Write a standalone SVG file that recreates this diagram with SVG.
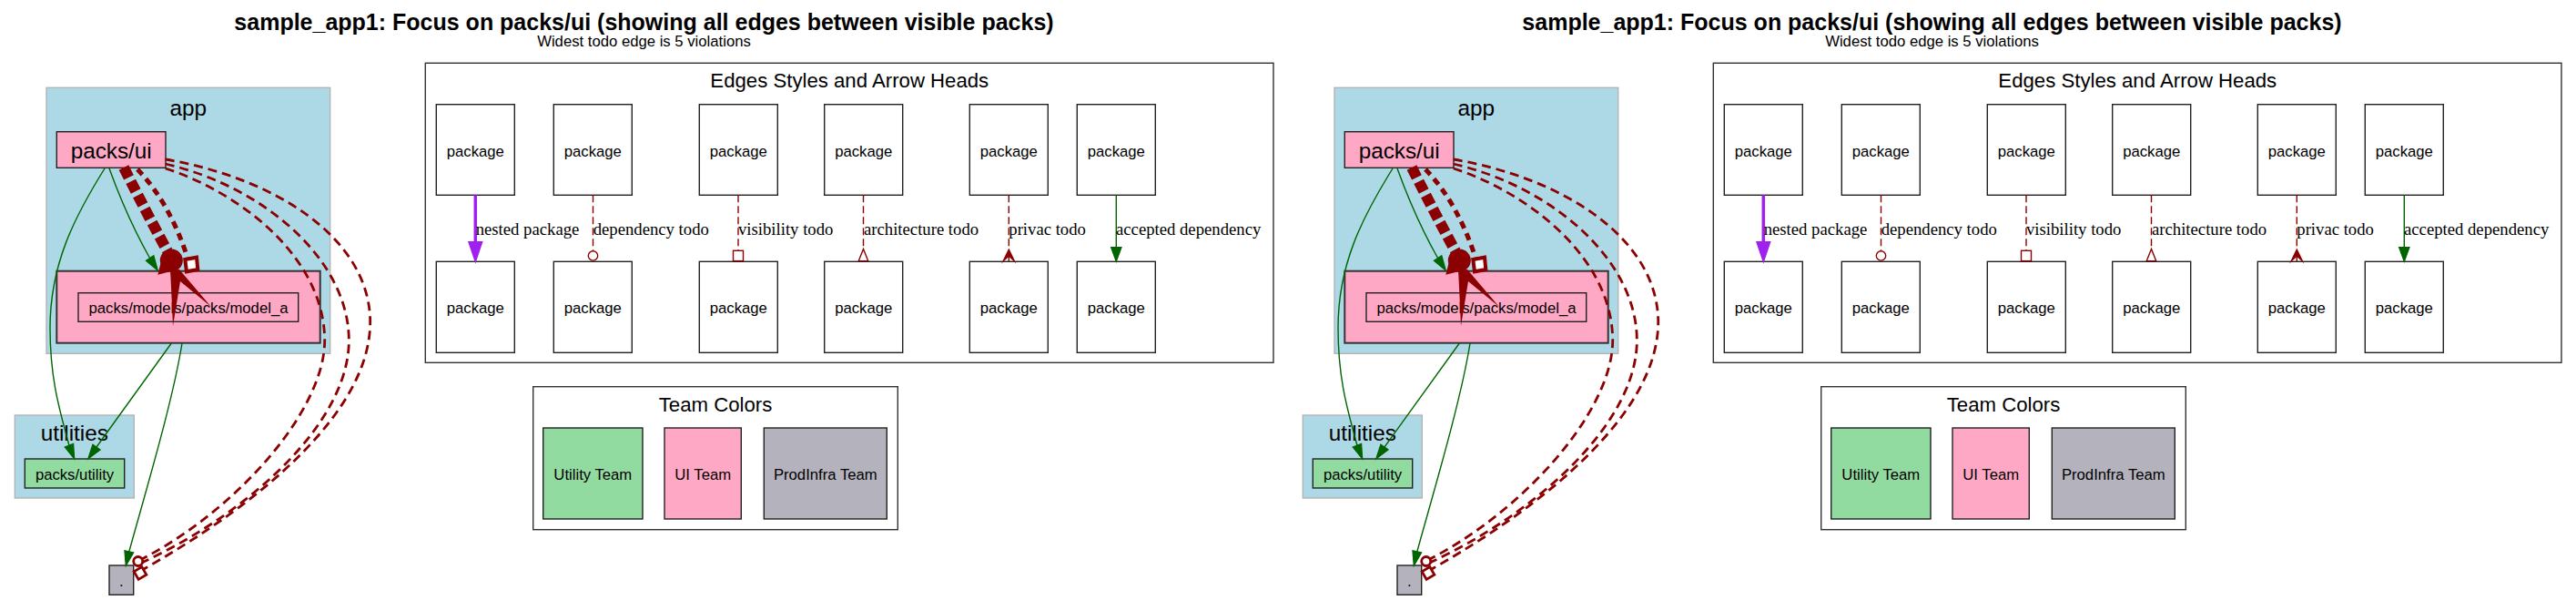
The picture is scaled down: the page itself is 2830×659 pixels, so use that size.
<svg xmlns="http://www.w3.org/2000/svg" width="2830" height="659" viewBox="0 0 2830 659">
<style>
.t{font-family:"Liberation Sans",Arial,sans-serif;fill:#000}
.c{text-anchor:middle}
.big{font-size:24.3px}
.sm{font-size:16.7px}
.hd{font-size:22.2px}
.ttl{font-family:"Liberation Sans",Arial,sans-serif;font-weight:bold;font-size:25px;text-anchor:middle}
.lb{font-family:"Liberation Serif","Times New Roman",serif;font-size:18.7px;fill:#000}
.cl{fill:#add8e6;stroke:#b4b4b4;stroke-width:1.4}
.box{fill:none;stroke:#333;stroke-width:1.4}
.pk{fill:#fff;stroke:#222;stroke-width:1.4}
.pink{fill:#ffa8c5}
.green{fill:#92dba0}
.gray{fill:#b4b3bd}
.nd{stroke:#222;stroke-width:1.4}
.g{fill:none;stroke:#006400;stroke-width:1.4}
.ga{fill:#006400;stroke:#006400;stroke-width:1.2}
.rl{fill:none;stroke:#8b0000;stroke-width:1.4;stroke-dasharray:8,4}
.rc{fill:none;stroke:#8b0000;stroke-width:2.8;stroke-dasharray:10,6}
.rh{fill:#fff;stroke:#8b0000;stroke-width:1.4}
.rf{fill:#8b0000;stroke:none}
.thick{fill:none;stroke:#8b0000;stroke-width:12;stroke-dasharray:12,5}
.mid{fill:none;stroke:#8b0000;stroke-width:5;stroke-dasharray:8,6}
</style>
<rect width="2830" height="659" fill="#fff"/>

<g id="half1">
<text class="ttl" x="707.5" y="33.3">sample_app1: Focus on packs/ui (showing all edges between visible packs)</text>
<text class="t c sm" x="707.5" y="51">Widest todo edge is 5 violations</text>

<g id="cluster_app">
<rect class="cl" x="51" y="96.3" width="311.7" height="292"/>
<text class="t c big" x="206.8" y="126.7">app</text>
</g>
<g id="cluster_utilities">
<rect class="cl" x="16.3" y="456" width="131" height="91"/>
<text class="t c big" x="81.8" y="484">utilities</text>
</g>
<g id="node_packs_ui">
<rect class="pink nd" x="62.3" y="144.7" width="119.7" height="39.6"/>
<text class="t c big" x="122.2" y="174">packs/ui</text>
</g>
<g id="node_model_a">
<rect class="pink" x="62.3" y="297.7" width="289.4" height="79" stroke="#333" stroke-width="2"/>
<rect class="pink nd" x="86" y="321.7" width="241.7" height="31.6"/>
<text class="t c sm" x="207" y="344">packs/models/packs/model_a</text>
</g>
<g id="node_packs_utility">
<rect class="green nd" x="27.3" y="504" width="109.4" height="32"/>
<text class="t c sm" x="82" y="526.7">packs/utility</text>
</g>
<g id="node_root">
<rect class="gray nd" x="120" y="621" width="26.7" height="32.3"/>
<text class="t c sm" x="133.3" y="644">.</text>
</g>

<g id="edges1">
<path class="g" d="M115,185 C82,238 55,290 55,360 C55,420 67,455 75.9,489.1"/>
<polygon class="ga" points="81.7,504 80.6,487.3 71.2,490.9"/>
<path class="g" d="M120,185 Q140,240 164.6,283.5"/>
<polygon class="ga" points="173.3,297 168.8,280.8 160.4,286.2"/>
<path class="g" d="M188.3,377 L106,491"/>
<polygon class="ga" points="96.7,504 110.1,493.9 101.9,488.1"/>
<path class="g" d="M200,377 C190,440 160,540 141.8,605.9"/>
<polygon class="ga" points="138.3,621.5 146.7,607 136.9,604.8"/>

<path class="thick" d="M136,184 Q160,232 184,276"/>
<circle class="rf" cx="188.3" cy="286" r="12.5"/>
<polygon class="rf" points="173.3,301.7 176.5,289 192,297"/>
<polygon class="rf" points="187,297 197,296 232,337 198,309 190,358 187.5,305"/>
<path class="mid" d="M151,186 Q186,222 206,283"/>
<polygon fill="#fff" stroke="#8b0000" stroke-width="4" points="203.3,285 216,282.7 217.3,296 205,298.3"/>

<path class="rc" d="M181.7,175 C300,195 405,260 406.7,352 C408,450 290,550 158,625"/>
<path class="rc" d="M181.7,180 C290,205 382,285 383.3,372 C385,460 280,560 156,618"/>
<path class="rc" d="M181.7,185 C260,210 355,280 356.7,372 C358,450 260,560 156,614"/>
<circle fill="#fff" stroke="#8b0000" stroke-width="2.8" cx="151.7" cy="616.5" r="5"/>
<rect fill="#fff" stroke="#8b0000" stroke-width="2.8" x="149" y="624.5" width="10" height="10" transform="rotate(-30 154 629.5)"/>
</g>

<g id="legend_edges">
<rect class="box" x="467.3" y="69.3" width="931.7" height="329"/>
<text class="t c hd" x="933.3" y="96">Edges Styles and Arrow Heads</text>
<g id="lp1"><rect class="pk" x="479.3" y="114.7" width="86" height="99.6"/><text class="t c sm" x="522.3" y="171.7">package</text></g>
<g id="lp2"><rect class="pk" x="608.3" y="114.7" width="86" height="99.6"/><text class="t c sm" x="651.3" y="171.7">package</text></g>
<g id="lp3"><rect class="pk" x="768.3" y="114.7" width="86" height="99.6"/><text class="t c sm" x="811.3" y="171.7">package</text></g>
<g id="lp4"><rect class="pk" x="905.7" y="114.7" width="86" height="99.6"/><text class="t c sm" x="948.7" y="171.7">package</text></g>
<g id="lp5"><rect class="pk" x="1065.3" y="114.7" width="86" height="99.6"/><text class="t c sm" x="1108.3" y="171.7">package</text></g>
<g id="lp6"><rect class="pk" x="1183.3" y="114.7" width="86" height="99.6"/><text class="t c sm" x="1226.3" y="171.7">package</text></g>
<g id="lq1"><rect class="pk" x="479.3" y="287.3" width="86" height="100"/><text class="t c sm" x="522.3" y="344">package</text></g>
<g id="lq2"><rect class="pk" x="608.3" y="287.3" width="86" height="100"/><text class="t c sm" x="651.3" y="344">package</text></g>
<g id="lq3"><rect class="pk" x="768.3" y="287.3" width="86" height="100"/><text class="t c sm" x="811.3" y="344">package</text></g>
<g id="lq4"><rect class="pk" x="905.7" y="287.3" width="86" height="100"/><text class="t c sm" x="948.7" y="344">package</text></g>
<g id="lq5"><rect class="pk" x="1065.3" y="287.3" width="86" height="100"/><text class="t c sm" x="1108.3" y="344">package</text></g>
<g id="lq6"><rect class="pk" x="1183.3" y="287.3" width="86" height="100"/><text class="t c sm" x="1226.3" y="344">package</text></g>
<g id="legend_connectors">
<line x1="522.3" y1="214.3" x2="522.3" y2="267" stroke="#a020f0" stroke-width="3.5"/>
<polygon points="522.3,287.3 515,265.7 529.6,265.7" fill="#a020f0" stroke="#a020f0" stroke-width="1.5"/>
<text class="lb" x="522.7" y="258.3">nested package</text>
<line class="rl" x1="651.5" y1="214.3" x2="651.5" y2="275.5"/>
<circle class="rh" cx="651.5" cy="280.9" r="5.2"/>
<text class="lb" x="651.7" y="258.3">dependency todo</text>
<line class="rl" x1="811" y1="214.3" x2="811" y2="275"/>
<rect class="rh" x="805.5" y="275.3" width="11" height="11.3"/>
<text class="lb" x="811" y="258.3">visibility todo</text>
<line class="rl" x1="948.5" y1="214.3" x2="948.5" y2="273.5"/>
<polygon class="rh" points="948.5,273.5 943.3,286.6 953.7,286.6"/>
<text class="lb" x="949" y="258.3">architecture todo</text>
<line class="rl" x1="1108.3" y1="214.3" x2="1108.3" y2="274"/>
<polygon class="rf" points="1108.3,272.5 1116.5,289.5 1108.3,282 1100.1,289.5"/>
<line x1="1108.3" y1="280" x2="1108.3" y2="287.3" stroke="#8b0000" stroke-width="1.4"/>
<text class="lb" x="1108.3" y="258.3">privac todo</text>
<line class="g" x1="1226.3" y1="214.3" x2="1226.3" y2="273"/>
<polygon class="ga" points="1226.3,287.3 1220.6,271.7 1232,271.7"/>
<text class="lb" x="1226" y="258.3">accepted dependency</text>
</g>
</g>

<g id="legend_teams">
<rect class="box" x="585.7" y="424.7" width="400.6" height="157"/>
<text class="t c hd" x="786" y="451.7">Team Colors</text>
<g id="team_utility"><rect class="green nd" x="596.7" y="470" width="109.3" height="100"/><text class="t c sm" x="651.3" y="527.3">Utility Team</text></g>
<g id="team_ui"><rect class="pink nd" x="730" y="470" width="84.3" height="100"/><text class="t c sm" x="772.2" y="527.3">UI Team</text></g>
<g id="team_prodinfra"><rect class="gray nd" x="839.3" y="470" width="135" height="100"/><text class="t c sm" x="906.8" y="527.3">ProdInfra Team</text></g>
</g>
</g>

<g id="half2" transform="translate(1415,0)">
<text class="ttl" x="707.5" y="33.3">sample_app1: Focus on packs/ui (showing all edges between visible packs)</text>
<text class="t c sm" x="707.5" y="51">Widest todo edge is 5 violations</text>

<g id="cluster_app_2">
<rect class="cl" x="51" y="96.3" width="311.7" height="292"/>
<text class="t c big" x="206.8" y="126.7">app</text>
</g>
<g id="cluster_utilities_2">
<rect class="cl" x="16.3" y="456" width="131" height="91"/>
<text class="t c big" x="81.8" y="484">utilities</text>
</g>
<g id="node_packs_ui_2">
<rect class="pink nd" x="62.3" y="144.7" width="119.7" height="39.6"/>
<text class="t c big" x="122.2" y="174">packs/ui</text>
</g>
<g id="node_model_a_2">
<rect class="pink" x="62.3" y="297.7" width="289.4" height="79" stroke="#333" stroke-width="2"/>
<rect class="pink nd" x="86" y="321.7" width="241.7" height="31.6"/>
<text class="t c sm" x="207" y="344">packs/models/packs/model_a</text>
</g>
<g id="node_packs_utility_2">
<rect class="green nd" x="27.3" y="504" width="109.4" height="32"/>
<text class="t c sm" x="82" y="526.7">packs/utility</text>
</g>
<g id="node_root_2">
<rect class="gray nd" x="120" y="621" width="26.7" height="32.3"/>
<text class="t c sm" x="133.3" y="644">.</text>
</g>

<g id="edges2">
<path class="g" d="M115,185 C82,238 55,290 55,360 C55,420 67,455 75.9,489.1"/>
<polygon class="ga" points="81.7,504 80.6,487.3 71.2,490.9"/>
<path class="g" d="M120,185 Q140,240 164.6,283.5"/>
<polygon class="ga" points="173.3,297 168.8,280.8 160.4,286.2"/>
<path class="g" d="M188.3,377 L106,491"/>
<polygon class="ga" points="96.7,504 110.1,493.9 101.9,488.1"/>
<path class="g" d="M200,377 C190,440 160,540 141.8,605.9"/>
<polygon class="ga" points="138.3,621.5 146.7,607 136.9,604.8"/>

<path class="thick" d="M136,184 Q160,232 184,276"/>
<circle class="rf" cx="188.3" cy="286" r="12.5"/>
<polygon class="rf" points="173.3,301.7 176.5,289 192,297"/>
<polygon class="rf" points="187,297 197,296 232,337 198,309 190,358 187.5,305"/>
<path class="mid" d="M151,186 Q186,222 206,283"/>
<polygon fill="#fff" stroke="#8b0000" stroke-width="4" points="203.3,285 216,282.7 217.3,296 205,298.3"/>

<path class="rc" d="M181.7,175 C300,195 405,260 406.7,352 C408,450 290,550 158,625"/>
<path class="rc" d="M181.7,180 C290,205 382,285 383.3,372 C385,460 280,560 156,618"/>
<path class="rc" d="M181.7,185 C260,210 355,280 356.7,372 C358,450 260,560 156,614"/>
<circle fill="#fff" stroke="#8b0000" stroke-width="2.8" cx="151.7" cy="616.5" r="5"/>
<rect fill="#fff" stroke="#8b0000" stroke-width="2.8" x="149" y="624.5" width="10" height="10" transform="rotate(-30 154 629.5)"/>
</g>

<g id="legend_edges_2">
<rect class="box" x="467.3" y="69.3" width="931.7" height="329"/>
<text class="t c hd" x="933.3" y="96">Edges Styles and Arrow Heads</text>
<g id="lp1_2"><rect class="pk" x="479.3" y="114.7" width="86" height="99.6"/><text class="t c sm" x="522.3" y="171.7">package</text></g>
<g id="lp2_2"><rect class="pk" x="608.3" y="114.7" width="86" height="99.6"/><text class="t c sm" x="651.3" y="171.7">package</text></g>
<g id="lp3_2"><rect class="pk" x="768.3" y="114.7" width="86" height="99.6"/><text class="t c sm" x="811.3" y="171.7">package</text></g>
<g id="lp4_2"><rect class="pk" x="905.7" y="114.7" width="86" height="99.6"/><text class="t c sm" x="948.7" y="171.7">package</text></g>
<g id="lp5_2"><rect class="pk" x="1065.3" y="114.7" width="86" height="99.6"/><text class="t c sm" x="1108.3" y="171.7">package</text></g>
<g id="lp6_2"><rect class="pk" x="1183.3" y="114.7" width="86" height="99.6"/><text class="t c sm" x="1226.3" y="171.7">package</text></g>
<g id="lq1_2"><rect class="pk" x="479.3" y="287.3" width="86" height="100"/><text class="t c sm" x="522.3" y="344">package</text></g>
<g id="lq2_2"><rect class="pk" x="608.3" y="287.3" width="86" height="100"/><text class="t c sm" x="651.3" y="344">package</text></g>
<g id="lq3_2"><rect class="pk" x="768.3" y="287.3" width="86" height="100"/><text class="t c sm" x="811.3" y="344">package</text></g>
<g id="lq4_2"><rect class="pk" x="905.7" y="287.3" width="86" height="100"/><text class="t c sm" x="948.7" y="344">package</text></g>
<g id="lq5_2"><rect class="pk" x="1065.3" y="287.3" width="86" height="100"/><text class="t c sm" x="1108.3" y="344">package</text></g>
<g id="lq6_2"><rect class="pk" x="1183.3" y="287.3" width="86" height="100"/><text class="t c sm" x="1226.3" y="344">package</text></g>
<g id="legend_connectors_2">
<line x1="522.3" y1="214.3" x2="522.3" y2="267" stroke="#a020f0" stroke-width="3.5"/>
<polygon points="522.3,287.3 515,265.7 529.6,265.7" fill="#a020f0" stroke="#a020f0" stroke-width="1.5"/>
<text class="lb" x="522.7" y="258.3">nested package</text>
<line class="rl" x1="651.5" y1="214.3" x2="651.5" y2="275.5"/>
<circle class="rh" cx="651.5" cy="280.9" r="5.2"/>
<text class="lb" x="651.7" y="258.3">dependency todo</text>
<line class="rl" x1="811" y1="214.3" x2="811" y2="275"/>
<rect class="rh" x="805.5" y="275.3" width="11" height="11.3"/>
<text class="lb" x="811" y="258.3">visibility todo</text>
<line class="rl" x1="948.5" y1="214.3" x2="948.5" y2="273.5"/>
<polygon class="rh" points="948.5,273.5 943.3,286.6 953.7,286.6"/>
<text class="lb" x="949" y="258.3">architecture todo</text>
<line class="rl" x1="1108.3" y1="214.3" x2="1108.3" y2="274"/>
<polygon class="rf" points="1108.3,272.5 1116.5,289.5 1108.3,282 1100.1,289.5"/>
<line x1="1108.3" y1="280" x2="1108.3" y2="287.3" stroke="#8b0000" stroke-width="1.4"/>
<text class="lb" x="1108.3" y="258.3">privac todo</text>
<line class="g" x1="1226.3" y1="214.3" x2="1226.3" y2="273"/>
<polygon class="ga" points="1226.3,287.3 1220.6,271.7 1232,271.7"/>
<text class="lb" x="1226" y="258.3">accepted dependency</text>
</g>
</g>

<g id="legend_teams_2">
<rect class="box" x="585.7" y="424.7" width="400.6" height="157"/>
<text class="t c hd" x="786" y="451.7">Team Colors</text>
<g id="team_utility_2"><rect class="green nd" x="596.7" y="470" width="109.3" height="100"/><text class="t c sm" x="651.3" y="527.3">Utility Team</text></g>
<g id="team_ui_2"><rect class="pink nd" x="730" y="470" width="84.3" height="100"/><text class="t c sm" x="772.2" y="527.3">UI Team</text></g>
<g id="team_prodinfra_2"><rect class="gray nd" x="839.3" y="470" width="135" height="100"/><text class="t c sm" x="906.8" y="527.3">ProdInfra Team</text></g>
</g>
</g>
</svg>
